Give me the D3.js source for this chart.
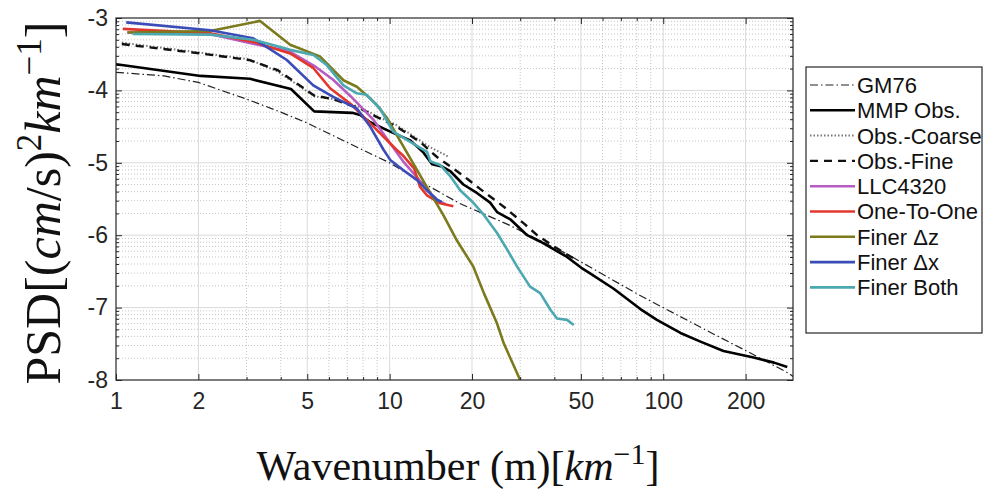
<!DOCTYPE html>
<html>
<head>
<meta charset="utf-8">
<script src="https://cdn.jsdelivr.net/npm/d3@7"></script>
<style>
body { margin: 0; background: #fff; }
svg { display: block; }
</style>
</head>
<body>
<svg id="chart" width="984" height="490"></svg>
<script>
// values: [wavenumber, log10 PSD]
var gm76 = [[1,-3.75],[1.5,-3.8],[2,-3.89],[3,-4.12],[4,-4.3],[5,-4.45],[7,-4.72],[10,-5.0],[13,-5.26],[18,-5.56],[27,-5.85],[45,-6.27],[82,-6.83],[150,-7.35],[214,-7.65],[285,-7.9],[298,-7.95]];
var mmpObs = [[1,-3.64],[1.05,-3.65],[2.04,-3.8],[3.09,-3.84],[4.36,-3.98],[5.3,-4.29],[7.3,-4.31],[7.8,-4.34],[8.5,-4.44],[10.05,-4.57],[11.9,-4.69],[13.3,-4.86],[14.3,-5.02],[15.5,-5.05],[16.7,-5.12],[18.6,-5.3],[20.9,-5.42],[23.3,-5.55],[24.7,-5.68],[27.6,-5.78],[31.8,-6.0],[35.6,-6.09],[40,-6.2],[44.5,-6.3],[50.2,-6.45],[54.2,-6.53],[65.9,-6.74],[82.5,-7.02],[94.8,-7.17],[115.6,-7.35],[136.8,-7.47],[166,-7.6],[214,-7.69],[254,-7.76],[284,-7.82]];
var obsCoarse = [[1.05,-3.34],[2.04,-3.48],[3.06,-3.57],[3.9,-3.74],[5.3,-4.08],[6.2,-4.12],[7.8,-4.23],[9,-4.36],[10.5,-4.47],[12.2,-4.63],[14,-4.78],[16.5,-4.92]];
var obsFine = [[1.05,-3.36],[2.04,-3.49],[3.06,-3.58],[3.9,-3.72],[5.3,-4.07],[6.2,-4.12],[7.8,-4.25],[9,-4.37],[10.6,-4.5],[13,-4.72],[14.9,-4.92],[17.1,-5.08],[19.2,-5.22],[21.4,-5.36],[26.2,-5.61],[31,-5.84],[34.6,-6.0],[40,-6.16],[47,-6.32]];
var llc4320 = [[1.1,-3.2],[2.2,-3.22],[3.2,-3.36],[4.3,-3.46],[5.3,-3.66],[6.2,-3.85],[7.2,-4.08],[8.7,-4.4],[10,-4.72],[11.2,-4.98],[12.6,-5.2],[13.7,-5.38],[15,-5.52],[16,-5.57]];
var oneToOne = [[1.06,-3.15],[2.21,-3.21],[3.17,-3.33],[4.33,-3.49],[5.26,-3.69],[6.06,-3.97],[7.17,-4.18],[8.73,-4.5],[10.6,-4.82],[11.2,-4.9],[12.3,-5.08],[12.9,-5.33],[13.7,-5.45],[15.3,-5.56],[17.1,-5.6]];
var finerDz = [[1.1,-3.2],[2.21,-3.18],[3.36,-3.04],[4.33,-3.37],[5.56,-3.53],[6.78,-3.86],[7.59,-3.95],[8.49,-4.11],[8.97,-4.2],[9.77,-4.38],[10.9,-4.69],[12.6,-5.1],[14.1,-5.42],[15.7,-5.72],[17.6,-6.07],[20.2,-6.43],[22.1,-6.8],[24.7,-7.22],[26.1,-7.49],[30,-8.0]];
var finerDx = [[1.09,-3.06],[2.21,-3.17],[3.17,-3.28],[4.21,-3.58],[5.26,-3.93],[6.22,-4.09],[7.59,-4.25],[8.49,-4.5],[9.5,-4.82],[10.05,-4.96],[11.2,-5.1],[12.6,-5.24],[13.7,-5.38],[14.9,-5.51],[15.5,-5.54]];
var finerBoth = [[1.15,-3.22],[2.21,-3.23],[3.17,-3.3],[4.33,-3.44],[5.27,-3.51],[5.89,-3.65],[6.78,-3.93],[7.59,-4.04],[8.23,-4.06],[9.22,-4.25],[10.3,-4.57],[11.9,-4.71],[13.7,-4.85],[14.1,-4.98],[15.3,-5.03],[16.7,-5.19],[18.1,-5.38],[19.7,-5.51],[20.2,-5.55],[22.1,-5.72],[24.7,-5.97],[26.9,-6.2],[29.2,-6.43],[32.6,-6.71],[35.5,-6.8],[38.7,-7.03],[40.9,-7.15],[44.5,-7.17],[47.1,-7.24]];

var seriesNames = ["GM76", "MMP Obs.", "Obs.-Coarse", "Obs.-Fine", "LLC4320", "One-To-One", "Finer \u0394z", "Finer \u0394x", "Finer Both"];
var xTicks = [1, 2, 5, 10, 20, 50, 100, 200];
var xMinorTicks = [3, 4, 6, 7, 8, 9, 30, 40, 60, 70, 80, 90];
var yTicks = [-8, -7, -6, -5, -4, -3];

var series = [
	{name: seriesNames[0], data: gm76, color: "#222", width: 1.2, dash: "8,3,1.5,3"},
	{name: seriesNames[1], data: mmpObs, color: "#000", width: 2.6, dash: null},
	{name: seriesNames[2], data: obsCoarse, color: "#777", width: 2, dash: "1.5,2"},
	{name: seriesNames[3], data: obsFine, color: "#111", width: 2.4, dash: "8,6"},
	{name: seriesNames[4], data: llc4320, color: "#b75cc2", width: 2.6, dash: null},
	{name: seriesNames[5], data: oneToOne, color: "#e3372e", width: 2.6, dash: null},
	{name: seriesNames[6], data: finerDz, color: "#7b7a1c", width: 2.6, dash: null},
	{name: seriesNames[7], data: finerDx, color: "#3b4cb8", width: 2.6, dash: null},
	{name: seriesNames[8], data: finerBoth, color: "#4ba8b0", width: 2.6, dash: null}
];

var pLeft = 116, pRight = 793, pTop = 18, pBottom = 380;
var x = d3.scaleLog().domain([1, 298]).range([pLeft, pRight]);
var y = d3.scaleLinear().domain([-8, -3]).range([pBottom, pTop]);

var yMinorTicks = [];
for (var n = -8; n < -3; n++) {
	for (var k = 2; k < 10; k++) yMinorTicks.push(n + Math.log10(k));
}

var svg = d3.select("#chart");
svg.append("rect").attr("width", 984).attr("height", 490).attr("fill", "#fff");

// grid
var grid = svg.append("g");
grid.selectAll(".xmin").data(xMinorTicks).enter().append("line")
	.attr("x1", function(d) { return x(d); }).attr("x2", function(d) { return x(d); })
	.attr("y1", pTop).attr("y2", pBottom)
	.attr("stroke", "#c4c4c4").attr("stroke-dasharray", "1,2");
grid.selectAll(".ymin").data(yMinorTicks).enter().append("line")
	.attr("y1", function(d) { return y(d); }).attr("y2", function(d) { return y(d); })
	.attr("x1", pLeft).attr("x2", pRight)
	.attr("stroke", "#c4c4c4").attr("stroke-dasharray", "1,2");
grid.selectAll(".xmaj").data(xTicks.slice(1)).enter().append("line")
	.attr("x1", function(d) { return x(d); }).attr("x2", function(d) { return x(d); })
	.attr("y1", pTop).attr("y2", pBottom)
	.attr("stroke", "#dadada");
grid.selectAll(".ymaj").data(yTicks.slice(1, -1)).enter().append("line")
	.attr("y1", function(d) { return y(d); }).attr("y2", function(d) { return y(d); })
	.attr("x1", pLeft).attr("x2", pRight)
	.attr("stroke", "#dadada");

// lines
svg.append("clipPath").attr("id", "clip").append("rect")
	.attr("x", pLeft).attr("y", pTop).attr("width", pRight - pLeft).attr("height", pBottom - pTop);
var line = d3.line().x(function(d) { return x(d[0]); }).y(function(d) { return y(d[1]); });
svg.append("g").attr("clip-path", "url(#clip)")
	.selectAll("path").data(series).enter().append("path")
	.attr("d", function(d) { return line(d.data); })
	.attr("fill", "none")
	.attr("stroke", function(d) { return d.color; })
	.attr("stroke-width", function(d) { return d.width; })
	.attr("stroke-dasharray", function(d) { return d.dash; })
	.attr("stroke-linejoin", "round");

// axes, ticks inward on every side
function styleAxis(g) {
	g.select(".domain").remove();
	g.selectAll("line").attr("stroke", "#262626");
	g.selectAll("text").attr("fill", "#262626").style("font-family", "Liberation Sans, Arial, sans-serif").style("font-size", "23px");
}
svg.append("g").attr("transform", "translate(0," + pBottom + ")")
	.call(d3.axisBottom(x).tickValues(xTicks).tickSize(-6).tickPadding(13).tickFormat(d3.format("d"))).call(styleAxis);
svg.append("g").attr("transform", "translate(0," + pBottom + ")")
	.call(d3.axisBottom(x).tickValues(xMinorTicks).tickSize(-3).tickFormat("")).call(styleAxis);
svg.append("g").attr("transform", "translate(0," + pTop + ")")
	.call(d3.axisTop(x).tickValues(xTicks).tickSize(-6).tickFormat("")).call(styleAxis);
svg.append("g").attr("transform", "translate(0," + pTop + ")")
	.call(d3.axisTop(x).tickValues(xMinorTicks).tickSize(-3).tickFormat("")).call(styleAxis);
svg.append("g").attr("transform", "translate(" + pLeft + ",0)")
	.call(d3.axisLeft(y).tickValues(yTicks).tickSize(-6).tickPadding(8).tickFormat(function(d) { return String(d); })).call(styleAxis);
svg.append("g").attr("transform", "translate(" + pLeft + ",0)")
	.call(d3.axisLeft(y).tickValues(yMinorTicks).tickSize(-3).tickFormat("")).call(styleAxis);
svg.append("g").attr("transform", "translate(" + pRight + ",0)")
	.call(d3.axisRight(y).tickValues(yTicks).tickSize(-6).tickFormat("")).call(styleAxis);
svg.append("g").attr("transform", "translate(" + pRight + ",0)")
	.call(d3.axisRight(y).tickValues(yMinorTicks).tickSize(-3).tickFormat("")).call(styleAxis);

svg.append("rect").attr("x", pLeft).attr("y", pTop).attr("width", pRight - pLeft).attr("height", pBottom - pTop)
	.attr("fill", "none").attr("stroke", "#262626").attr("stroke-width", 1.2);

// axis titles
var xt = svg.append("text").attr("x", 458).attr("y", 480).attr("text-anchor", "middle")
	.style("font-family", "Liberation Serif, serif").style("font-size", "42px").attr("fill", "#111");
xt.append("tspan").text("Wavenumber (m)[");
xt.append("tspan").style("font-style", "italic").text("km");
xt.append("tspan").attr("dy", -16).style("font-size", "30px").text("\u22121");
xt.append("tspan").attr("dy", 16).text("]");

var yt = svg.append("text").attr("transform", "translate(60,203) rotate(-90)").attr("text-anchor", "middle")
	.style("font-family", "Liberation Serif, serif").style("font-size", "50px").attr("fill", "#111");
yt.append("tspan").text("PSD[(");
yt.append("tspan").style("font-style", "italic").text("cm");
yt.append("tspan").text("/s)");
yt.append("tspan").attr("dy", -19).style("font-size", "35px").text("2");
yt.append("tspan").attr("dy", 19).style("font-style", "italic").text("km");
yt.append("tspan").attr("dy", -19).style("font-size", "35px").text("\u22121");
yt.append("tspan").attr("dy", 19).text("]");

// legend
var legend = svg.append("g");
legend.append("rect").attr("x", 806).attr("y", 67).attr("width", 176).attr("height", 266)
	.attr("fill", "#fff").attr("stroke", "#262626").attr("stroke-width", 1.2);
var rows = legend.selectAll(".row").data(series).enter().append("g")
	.attr("transform", function(d, i) { return "translate(0," + (85 + i * 25.3) + ")"; });
rows.append("line").attr("x1", 810).attr("x2", 855)
	.attr("stroke", function(d) { return d.color; })
	.attr("stroke-width", function(d) { return d.width; })
	.attr("stroke-dasharray", function(d) { return d.dash; });
rows.append("text").attr("x", 857).attr("dy", "0.36em")
	.style("font-family", "Liberation Sans, Arial, sans-serif").style("font-size", "22px").attr("fill", "#111")
	.text(function(d) { return d.name; });
</script>
</body>
</html>
